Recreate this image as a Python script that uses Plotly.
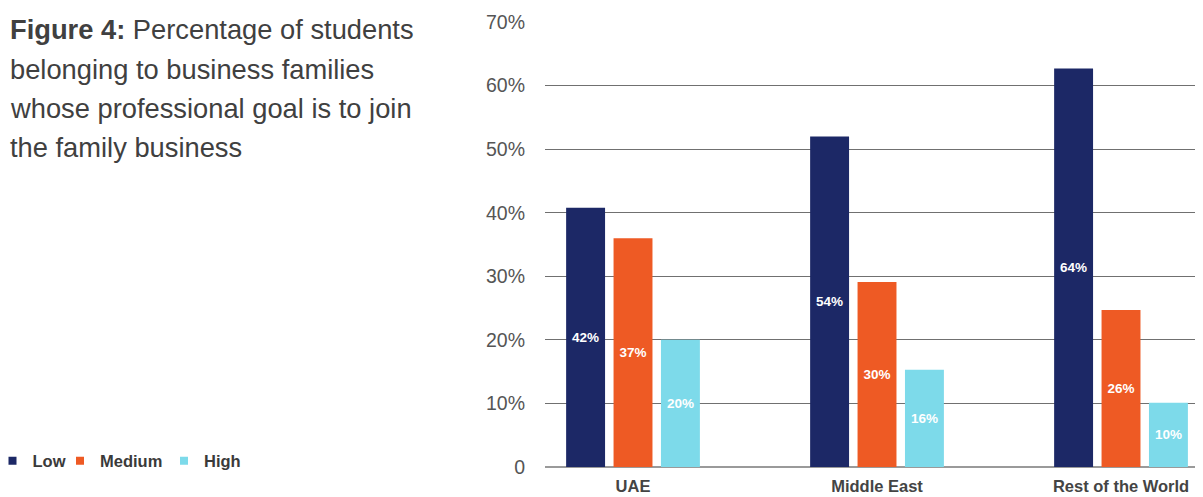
import plotly.graph_objects as go

# ---- data ----
categories = ["UAE", "Middle East", "Rest of the World"]
series_names = ["Low", "Medium", "High"]
low_values = [40.8, 52.0, 62.7]
medium_values = [36.0, 29.1, 24.7]
high_values = [20.0, 15.3, 10.1]
low_labels = ["42%", "54%", "64%"]
medium_labels = ["37%", "30%", "26%"]
high_labels = ["20%", "16%", "10%"]
y_tick_values = [0, 10, 20, 30, 40, 50, 60, 70]
y_tick_labels = ["0", "10%", "20%", "30%", "40%", "50%", "60%", "70%"]
title_lines = [
    "<b>Figure 4:</b> Percentage of students",
    "belonging to business families",
    "whose professional goal is to join",
    "the family business",
]

# ---- style / layout ----
colors = ["#1c2866", "#ee5a24", "#7ddaea"]
FONT = "Liberation Sans, Arial, Helvetica, sans-serif"
OFF = 8                      # default page body margin
W, H = 1203 - OFF, 497 - OFF
PLOT_TOP, PLOT_BOTTOM, PLOT_LEFT = 22 - OFF, 467 - OFF, 545 - OFF
legend_left_px = [-7.5 - OFF, 60 - OFF, 164 - OFF]


def py(p):
    """page pixel y -> paper y"""
    return (PLOT_BOTTOM - (p - OFF)) / (PLOT_BOTTOM - PLOT_TOP)


def px(p):
    """page pixel x -> paper x"""
    return (p - OFF) / W


legend_ids = ["legend", "legend2", "legend3"]

fig = go.Figure()
all_values = [low_values, medium_values, high_values]
all_labels = [low_labels, medium_labels, high_labels]
for name, vals, labs, col, lid in zip(series_names, all_values, all_labels, colors, legend_ids):
    fig.add_trace(go.Bar(
        x=categories, y=vals, name=name, text=labs,
        marker=dict(color=col, line=dict(width=0)),
        textposition="inside", insidetextanchor="middle",
        textfont=dict(color="white", size=13.5, family=FONT, weight="bold"),
        textangle=0, constraintext="none",
        legendgroup=name, showlegend=False, hoverinfo="skip",
    ))
    fig.add_trace(go.Scatter(
        x=[None], y=[None], name=name, mode="markers",
        marker=dict(symbol="square", size=8, color=col),
        legendgroup=name, showlegend=True, legend=lid,
    ))

for i, line in enumerate(title_lines):
    fig.add_annotation(
        text=line, xref="paper", yref="paper",
        x=px(8), y=py(30 + 39.3 * i), xanchor="left", yanchor="middle",
        showarrow=False, align="left",
        font=dict(family=FONT, size=27.3, color="#404040"),
    )

legend_style = dict(
    orientation="h", xanchor="left", y=py(461), yanchor="middle",
    font=dict(family=FONT, size=16.5, color="#3a3a3a", weight="bold"),
    itemwidth=30, bgcolor="rgba(0,0,0,0)", borderwidth=0,
)

fig.update_layout(
    width=W, height=H,
    margin=dict(l=0, r=0, t=PLOT_TOP, b=H - PLOT_BOTTOM, pad=0, autoexpand=False),
    paper_bgcolor="white", plot_bgcolor="white",
    barmode="group", bargap=0.417, bargroupgap=0.179,
    font=dict(family=FONT, color="#444444"),
    showlegend=True,
    legend=dict(x=legend_left_px[0] / W, **legend_style),
    legend2=dict(x=legend_left_px[1] / W, **legend_style),
    legend3=dict(x=legend_left_px[2] / W, **legend_style),
    xaxis=dict(
        domain=[PLOT_LEFT / W, 1], type="category",
        range=[-0.3607, 2.336], showgrid=False, zeroline=False, showline=False,
        ticks="", tickfont=dict(family=FONT, size=16.5, color="#444444", weight="bold"),
        ticklabelstandoff=7,
    ),
    yaxis=dict(
        range=[0, 70], tickvals=y_tick_values, ticktext=y_tick_labels,
        showgrid=True, gridcolor="#707070", gridwidth=1,
        zeroline=True, zerolinecolor="#9a9a9a", zerolinewidth=1.5,
        showline=False, ticks="", ticklabelstandoff=19,
        tickfont=dict(family=FONT, size=19.5, color="#555555"),
    ),
)

fig.write_html("out.html")
